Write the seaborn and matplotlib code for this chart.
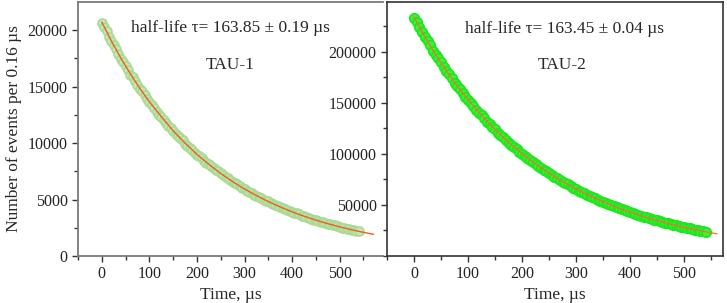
import matplotlib
matplotlib.use('Agg')
import matplotlib.pyplot as plt
from matplotlib.ticker import MultipleLocator
import seaborn as sns

# sampled times (us), every 5 us
t_pts = [0, 5, 10, 15, 20, 25, 30, 35, 40, 45, 50, 55, 60, 65, 70, 75, 80, 85, 90, 95,
         100, 105, 110, 115, 120, 125, 130, 135, 140, 145, 150, 155, 160, 165, 170, 175,
         180, 185, 190, 195, 200, 205, 210, 215, 220, 225, 230, 235, 240, 245, 250, 255,
         260, 265, 270, 275, 280, 285, 290, 295, 300, 305, 310, 315, 320, 325, 330, 335,
         340, 345, 350, 355, 360, 365, 370, 375, 380, 385, 390, 395, 400, 405, 410, 415,
         420, 425, 430, 435, 440, 445, 450, 455, 460, 465, 470, 475, 480, 485, 490, 495,
         500, 505, 510, 515, 520, 525, 530, 535, 540]

# TAU-1: counts per 0.16 us bin
n1 = [20600, 20300, 19900, 19420, 19000, 18680, 18300, 17860, 17450, 17190, 16850, 16420,
      16050, 15820, 15500, 15110, 14780, 14560, 14260, 13900, 13600, 13390, 13120, 12780,
      12500, 12320, 12080, 11760, 11500, 11340, 11100, 10820, 10580, 10430, 10230, 9950,
      9740, 9600, 9400, 9160, 8960, 8830, 8650, 8420, 8240, 8120, 7960, 7750, 7590, 7480,
      7320, 7130, 6980, 6880, 6740, 6560, 6420, 6330, 6200, 6040, 5910, 5790, 5700, 5590,
      5440, 5330, 5250, 5140, 5000, 4900, 4830, 4730, 4600, 4510, 4450, 4350, 4230, 4150,
      4090, 4000, 3890, 3820, 3770, 3690, 3580, 3510, 3470, 3390, 3290, 3230, 3190, 3120,
      3030, 2970, 2940, 2870, 2790, 2730, 2700, 2640, 2570, 2520, 2490, 2430, 2360, 2320,
      2290, 2240, 2200]
# TAU-1 fit curve
f1_t = [0, 20, 40, 60, 80, 100, 125, 150, 175, 200, 225, 250, 275, 300, 325, 350, 375, 400,
        425, 450, 475, 500, 525, 550, 571]
f1_n = [20700, 19045, 17522, 16121, 14832, 13646, 12340, 11079, 9990, 8995, 8110, 7304, 6580,
        5930, 5345, 4815, 4340, 3909, 3523, 3174, 2860, 2577, 2322, 2092, 1920]

# TAU-2
n2 = [233500, 229500, 224800, 219200, 214500, 210900, 206600, 201300, 197000, 193800,
      189800, 184900, 181000, 178100, 174400, 169800, 166300, 163600, 160200, 156000,
      152800, 150300, 147200, 143300, 140400, 138100, 135300, 131700, 129000, 126900,
      124300, 121000, 118500, 116600, 114200, 111200, 108900, 107100, 104900, 102100,
      100000, 98400, 96400, 93800, 91900, 90400, 88600, 86200, 84400, 83100, 81400, 79200,
      77500, 76300, 74800, 72700, 71200, 70100, 68700, 66800, 65400, 64100, 63200, 61800,
      60100, 58900, 58000, 56800, 55200, 54100, 53300, 52100, 50700, 49700, 49000, 47900,
      46600, 45700, 45000, 44000, 42800, 41900, 41300, 40400, 39300, 38600, 38000, 37100,
      36100, 35400, 34900, 34100, 33200, 32500, 32100, 31300, 30500, 29900, 29500, 28800,
      28000, 27500, 27100, 26400, 25700, 25200, 24900, 24300, 23700]
f2_t = [0, 20, 40, 60, 80, 100, 125, 150, 175, 200, 225, 250, 275, 300, 325, 350, 375, 400,
        425, 450, 475, 500, 525, 550, 561]
f2_n = [234000, 214990, 197520, 181470, 166730, 153180, 137800, 123940, 111480, 100270, 90200,
        81130, 72980, 65640, 59040, 53110, 47770, 42970, 38650, 34770, 31270, 28130, 25300,
        22760, 21700]

texts1 = ['half-life \u03c4= 163.85 \u00b1 0.19 \u00b5s', 'TAU-1']
texts2 = ['half-life \u03c4= 163.45 \u00b1 0.04 \u00b5s', 'TAU-2']

sns.set_style('white')
plt.rcParams['font.family'] = ['Liberation Serif', 'DejaVu Serif']

fig = plt.figure(figsize=(7.27, 3.03), dpi=100)
W, H = 727, 303
ax1 = fig.add_axes([78 / W, 47 / H, 305 / W, 254 / H])
ax2 = fig.add_axes([387 / W, 47 / H, 336 / W, 254 / H])

# left panel
sns.scatterplot(x=t_pts, y=n1, ax=ax1, marker='o', s=42, facecolor='#c4e8b6',
                edgecolor='#a8db96', linewidth=1.2, zorder=2)
sns.lineplot(x=f1_t, y=f1_n, ax=ax1, color='#f45a1c', lw=1.0, zorder=3)
ax1.set_xlim(-50, 591)
ax1.set_ylim(0, 22480)
ax1.xaxis.set_major_locator(MultipleLocator(100))
ax1.xaxis.set_minor_locator(MultipleLocator(50))
ax1.yaxis.set_major_locator(MultipleLocator(5000))
ax1.yaxis.set_minor_locator(MultipleLocator(2500))
ax1.set_xlabel('Time, \u00b5s', fontsize=12.5, labelpad=3)
ax1.set_ylabel('Number of events per 0.16 \u00b5s', fontsize=12.5, labelpad=4)
ax1.spines['right'].set_visible(False)
for s in ['left', 'bottom', 'top']:
    ax1.spines[s].set_color('#7a7a7a')
    ax1.spines[s].set_linewidth(1.3)
ax1.text(0.50, 0.898, texts1[0], transform=ax1.transAxes, ha='center', va='center', fontsize=12.5)
ax1.text(0.50, 0.752, texts1[1], transform=ax1.transAxes, ha='center', va='center', fontsize=12.5)

# right panel
sns.scatterplot(x=t_pts, y=n2, ax=ax2, marker='o', s=46, facecolor='#3af43a',
                edgecolor='#1fe61f', linewidth=1.3, zorder=2)
sns.lineplot(x=f2_t, y=f2_n, ax=ax2, color='#ff6a2a', lw=0.9, zorder=3)
ax2.set_xlim(-50, 572)
ax2.set_ylim(0, 249000)
ax2.xaxis.set_major_locator(MultipleLocator(100))
ax2.xaxis.set_minor_locator(MultipleLocator(50))
ax2.set_yticks([50000, 100000, 150000, 200000])
ax2.yaxis.set_minor_locator(MultipleLocator(25000))
ax2.set_xlabel('Time, \u00b5s', fontsize=12.5, labelpad=3)
ax2.set_ylabel('')
for s in ['left', 'bottom', 'top', 'right']:
    ax2.spines[s].set_color('#333333')
    ax2.spines[s].set_linewidth(1.2)
ax2.text(0.527, 0.894, texts2[0], transform=ax2.transAxes, ha='center', va='center', fontsize=12.5)
ax2.text(0.521, 0.752, texts2[1], transform=ax2.transAxes, ha='center', va='center', fontsize=12.5)

for ax in (ax1, ax2):
    ax.tick_params(which='both', direction='out', left=True, bottom=True, top=False, right=False,
                   colors='#333333', labelsize=11.5, labelcolor='#222222')
    ax.tick_params(which='major', length=4, width=1)
    ax.tick_params(which='minor', length=3, width=1)
    ax.grid(False)

fig.savefig('out.png', dpi=100)
